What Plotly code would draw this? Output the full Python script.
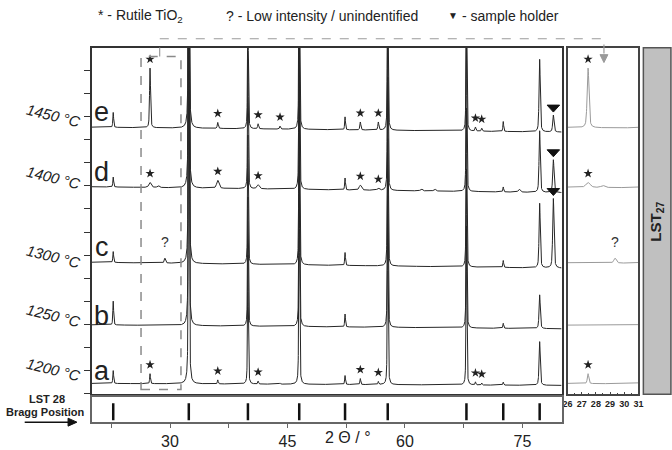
import numpy as np
import plotly.graph_objects as go

W, H = 672, 450

# ---------------- data ----------------
sample_letters = ["a", "b", "c", "d", "e"]
temperature_labels = ["1200 °C", "1250 °C", "1300 °C", "1400 °C", "1450 °C"]
# stacking offset of each pattern (left end / right end), intensity units
offset_left = [11, 70, 133, 209, 269]
offset_right = [9, 66, 127, 203, 264]

# LST 28 Bragg positions (2θ / °)
bragg_positions = [22.75, 32.4, 39.95, 46.5, 52.35, 57.8, 67.85, 72.55, 77.2]
perov_a = [13, 500, 130, 220, 9, 190, 160, 3, 44]
perov_b = [24, 500, 130, 220, 13, 190, 160, 5, 34]
perov_c = [11, 500, 130, 220, 13, 190, 160, 7, 65]
perov_d = [10, 500, 130, 220, 12, 190, 160, 5, 62]
perov_e = [15, 500, 130, 220, 13, 190, 160, 10, 73]

# Rutile TiO2 reflections
rutile_positions = [27.45, 36.1, 41.25, 44.05, 54.3, 56.6, 69.0, 69.8]
rutile_a = [10, 4, 3, 1, 6, 3, 3, 2]
rutile_b = [0, 0, 0, 0, 0, 0, 0, 0]
rutile_c = [0, 0, 0, 0, 0, 0, 0, 0]
rutile_d = [5, 8, 4, 0, 5, 2, 0, 0]
rutile_e = [60, 6, 5, 3, 8, 8, 4, 3]
rutile_width = [0.12, 0.12, 0.12, 0.35, 0.15]

# sample holder reflection
holder_position = 78.95
holder_int = [0, 0, 70, 33, 17]
# low intensity / unidentified
unknown_position = 29.35
unknown_int = [0, 0, 5, 0, 0]
# weak extra features in pattern d
extra_d_positions = [28.5, 62.1, 63.8, 74.6]
extra_d_int = [2, 2, 2, 3]

# rutile marks (*) per pattern
stars_a = [27.45, 36.1, 41.25, 54.3, 56.6, 69.0, 69.8]
stars_d = [27.45, 36.1, 41.25, 54.3, 56.6]
stars_e = [27.45, 36.1, 41.25, 44.05, 54.3, 56.6, 69.0, 69.8]

# axis tick labels
x_tick_labels = ["30", "45", "60", "75"]

# ---------------- pattern synthesis from peak lists ----------------
tt = np.round(np.arange(20.0, 80.0001, 0.01), 3)


def pv(x, x0, h, w, eta=0.5):
    d = (x - x0) / w
    return h * (eta / (1 + 4 * d * d) + (1 - eta) * np.exp(-4 * np.log(2) * d * d))


perovs = [perov_a, perov_b, perov_c, perov_d, perov_e]
rutiles = [rutile_a, rutile_b, rutile_c, rutile_d, rutile_e]
patterns = []
for i in range(5):
    base = offset_left[i] + (offset_right[i] - offset_left[i]) * (tt - 20) / 60
    y = base.copy()
    for p, h in zip(bragg_positions, perovs[i]):
        y += pv(tt, p, h, 0.18 if p > 75 else 0.12)
    for p, h in zip(rutile_positions, rutiles[i]):
        if h:
            y += pv(tt, p, h, rutile_width[i])
    if holder_int[i]:
        y += pv(tt, holder_position, holder_int[i], 0.2)
    if unknown_int[i]:
        y += pv(tt, unknown_position, unknown_int[i], 0.2)
    if i == 3:
        for p, h in zip(extra_d_positions, extra_d_int):
            y += pv(tt, p, h, 0.3)
    patterns.append(y)


def yat(i, x):
    return float(np.interp(x, tt, patterns[i]))


fig = go.Figure()
MAIN = "#262626"
INSET = "#9a9a9a"
for i in range(5):
    fig.add_trace(go.Scatter(x=tt, y=patterns[i], mode="lines",
                             line=dict(color=MAIN, width=1), xaxis="x", yaxis="y",
                             hoverinfo="skip", showlegend=False))
    sel = (tt >= 25.5) & (tt <= 31.5)
    fig.add_trace(go.Scatter(x=tt[sel], y=patterns[i][sel], mode="lines",
                             line=dict(color=INSET, width=1), xaxis="x2", yaxis="y2",
                             hoverinfo="skip", showlegend=False))

# stars
star_sets = {0: stars_a, 3: stars_d, 4: stars_e}
for i, xs in star_sets.items():
    ys = [yat(i, x) + 9 for x in xs]
    fig.add_trace(go.Scatter(x=xs, y=ys, mode="markers",
                             marker=dict(symbol="star", size=7, color="#222"),
                             xaxis="x", yaxis="y", hoverinfo="skip", showlegend=False))
    xin = [x for x in xs if 26 <= x <= 31]
    fig.add_trace(go.Scatter(x=xin, y=[yat(i, x) + 9 for x in xin], mode="markers",
                             marker=dict(symbol="star", size=7, color="#222"),
                             xaxis="x2", yaxis="y2", hoverinfo="skip", showlegend=False))

# unidentified "?"
for ax, ay in (("x", "y"), ("x2", "y2")):
    fig.add_trace(go.Scatter(x=[unknown_position], y=[yat(2, unknown_position) + 15],
                             mode="text", text=["?"], textfont=dict(size=14, color="#333",
                             family="Arial, Liberation Sans"),
                             xaxis=ax, yaxis=ay, hoverinfo="skip", showlegend=False))

# Bragg position bars
bx, by = [], []
for p in bragg_positions:
    bx += [p, p, None]
    by += [0.08, 0.76, None]
fig.add_trace(go.Scatter(x=bx, y=by, mode="lines", line=dict(color="#111", width=2.5),
                         xaxis="x3", yaxis="y3", hoverinfo="skip", showlegend=False))


def fx(p):
    return p / W


def fy(p):
    return 1 - p / H


FONT = "Arial, Liberation Sans, sans-serif"
main_dom_y = [fy(397), fy(48)]
fig.update_layout(
    width=W, height=H, margin=dict(l=0, r=0, t=0, b=0),
    paper_bgcolor="white", plot_bgcolor="white",
    font=dict(family=FONT, color="#222"),
    xaxis=dict(domain=[fx(88), fx(565)], range=[20, 80], anchor="y",
               showline=True, mirror=True, linecolor="#333", linewidth=1.5,
               ticks="", showticklabels=False, showgrid=False, zeroline=False),
    yaxis=dict(domain=main_dom_y, range=[0, 349], anchor="x",
               showline=True, mirror=True, linecolor="#333", linewidth=1.5,
               ticks="outside", ticklen=6, tickcolor="#333", tick0=24, dtick=23.23,
               showticklabels=False, showgrid=False, zeroline=False),
    xaxis2=dict(domain=[fx(571), fx(643)], range=[26, 31], anchor="y2",
                showline=True, mirror=True, linecolor="#444", linewidth=1.5,
                ticks="inside", ticklen=3, tickcolor="#444", dtick=1,
                tickfont=dict(size=9, family="Arial Black, Liberation Sans", weight="bold"),
                minor=dict(ticks="inside", ticklen=2, dtick=0.5, tickcolor="#444"),
                showgrid=False, zeroline=False),
    yaxis2=dict(domain=main_dom_y, range=[0, 349], anchor="x2",
                showline=True, mirror=True, linecolor="#444", linewidth=1.5,
                ticks="", showticklabels=False, showgrid=False, zeroline=False),
    xaxis3=dict(domain=[fx(88), fx(565)], range=[20, 80], anchor="y3",
                showline=True, mirror=True, linecolor="#666", linewidth=1.5,
                ticks="outside", ticklen=4, tickcolor="#666",
                tickvals=[float(v) for v in x_tick_labels], ticktext=x_tick_labels,
                minor=dict(ticks="outside", ticklen=4, tickcolor="#666",
                           tick0=22.5, dtick=7.5),
                tickfont=dict(size=16, color="#222"), showgrid=False, zeroline=False),
    yaxis3=dict(domain=[fy(425), fy(400)], range=[0, 1], anchor="x3",
                showline=True, mirror=True, linecolor="#666", linewidth=1.5,
                ticks="", showticklabels=False, showgrid=False, zeroline=False),
)

shapes = []
# dashed zoom box
shapes.append(dict(type="rect", xref="x", yref="y", x0=26.3, x1=31.4, y0=5, y1=340,
                   line=dict(color="#8a8a8a", width=1.5, dash="dash")))
# connector
path = "M {},{} L {},{} L {},{} L {},{}".format(fx(157), fy(57), fx(157), fy(39),
                                               fx(608), fy(39), fx(608), fy(56))
shapes.append(dict(type="path", xref="paper", yref="paper", path=path,
                   line=dict(color="#9a9a9a", width=1.2, dash="dash")))
tri = "M {},{} L {},{} L {},{} Z".format(fx(604), fy(55), fx(612), fy(55), fx(608), fy(63))
shapes.append(dict(type="path", xref="paper", yref="paper", path=tri,
                   fillcolor="#9a9a9a", line=dict(color="#9a9a9a", width=1)))
# grey side box
shapes.append(dict(type="rect", xref="paper", yref="paper", x0=fx(648), x1=fx(676),
                   y0=fy(397), y1=fy(48), fillcolor="#c0c0c0",
                   line=dict(color="#555", width=1.5)))
# arrow under "Bragg Position"
shapes.append(dict(type="line", xref="paper", yref="paper", x0=fx(20), x1=fx(66),
                   y0=fy(425), y1=fy(425), line=dict(color="#111", width=1.5)))
arr = "M {},{} L {},{} L {},{} Z".format(fx(64), fy(421), fx(73), fy(425), fx(64), fy(429))
shapes.append(dict(type="path", xref="paper", yref="paper", path=arr,
                   fillcolor="#111", line=dict(color="#111", width=1)))
# sample holder triangles (flat, drawn just above each holder peak)
for i in range(5):
    if holder_int[i]:
        top = yat(i, holder_position) + 3
        tp = "M {},{} L {},{} L {},{} Z".format(holder_position - 0.8, top + 7,
                                                holder_position + 0.8, top + 7,
                                                holder_position, top)
        shapes.append(dict(type="path", xref="x", yref="y", path=tp,
                           fillcolor="#111", line=dict(color="#111", width=1)))
fig.update_layout(shapes=shapes)

ann = []


def text(x, y, s, size, **kw):
    d = dict(x=fx(x), y=fy(y), xref="paper", yref="paper", xanchor="center",
             yanchor="middle", showarrow=False, text=s, font=dict(size=size))
    d.update(kw)
    ann.append(d)


# header legend
text(92, 16, "* - Rutile TiO<sub>2</sub>", 14, xanchor="left")
text(222, 16, "? - Low intensity / unindentified", 14, xanchor="left")
text(455, 16, "▼", 10)
text(462, 16, "- sample holder", 14, xanchor="left")
# sample letters and temperatures
letter_y = [373, 318, 249, 173, 113]
temp_y = [372, 318, 258, 179, 116]
for i in range(5):
    text(98, letter_y[i], sample_letters[i], 27)
    text(49, temp_y[i], temperature_labels[i], 15, textangle=14,
         font=dict(size=15, color="#222", style="italic"))
# Bragg label
text(43, 402, "<b>LST 28</b>", 11)
text(41, 415, "<b>Bragg Position</b>", 11)
# x-axis title
text(348, 440, "2 Θ / °", 16)
# LST27 side label
text(661, 223, "<b>LST<sub>27</sub></b>", 15, textangle=-90)
fig.update_layout(annotations=ann)

fig.write_html("out.html")
